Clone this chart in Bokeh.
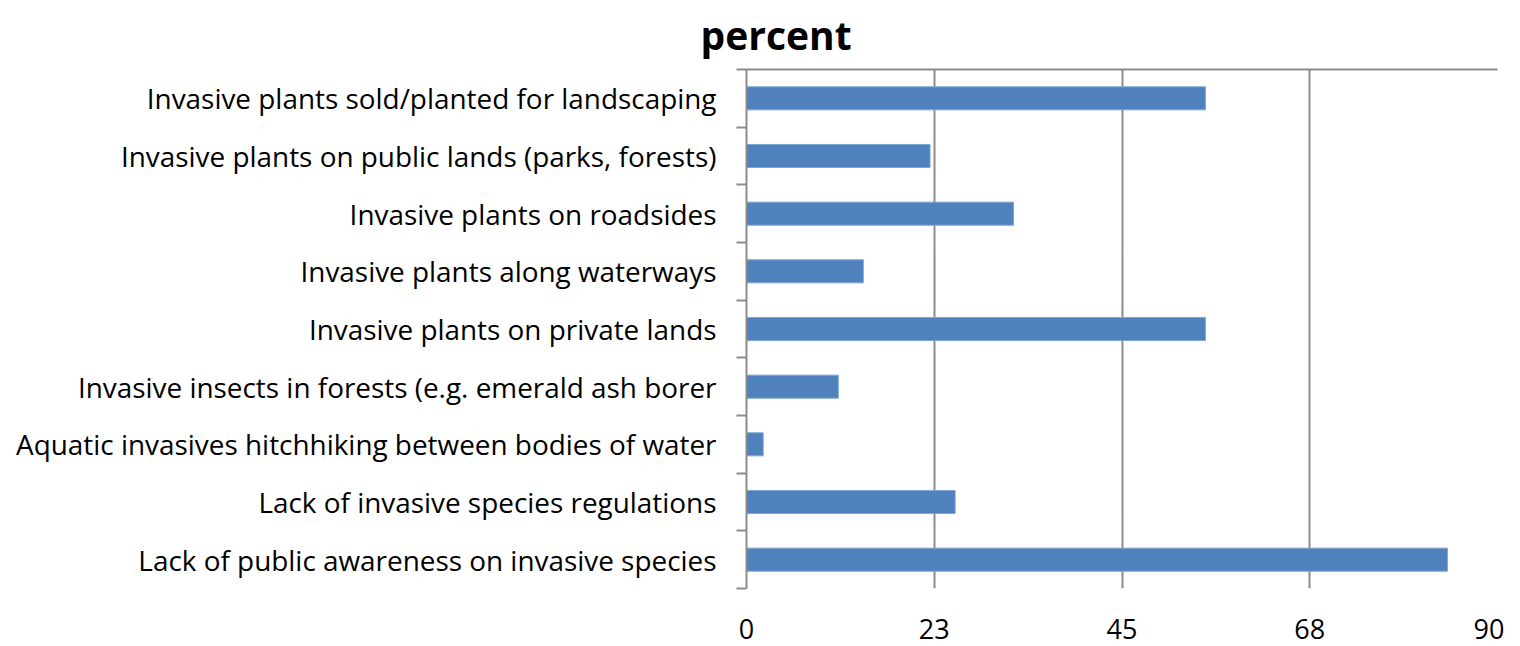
from bokeh.plotting import figure
from bokeh.models import Range1d, FixedTicker, LinearAxis, Title
from bokeh.embed import file_html
from bokeh.resources import INLINE

# Data (top to bottom as shown)
categories = [
    "Invasive plants sold/planted for landscaping",
    "Invasive plants on public lands (parks, forests)",
    "Invasive plants on roadsides",
    "Invasive plants along waterways",
    "Invasive plants on private lands",
    "Invasive insects in forests (e.g. emerald ash borer",
    "Aquatic invasives hitchhiking between bodies of water",
    "Lack of invasive species regulations",
    "Lack of public awareness on invasive species",
]
percent = [55, 22, 32, 14, 55, 11, 2, 25, 84]
x_ticks = [0, 22.5, 45, 67.5, 90]
x_tick_labels = ["0", "23", "45", "68", "90"]
title_text = "percent"

n = len(categories)
# bottom-to-top positions
ypos = [n - i - 0.5 for i in range(n)]

FONT = "Open Sans"
GRAY = "#8c8c8c"

p = figure(width=1504, height=646, output_backend="svg", toolbar_location=None,
           x_range=Range1d(0, 90), y_range=Range1d(0, n),
           x_axis_location="below")
p.min_border_left = 746
p.min_border_right = 7
p.min_border_top = 68
p.min_border_bottom = 58
p.outline_line_color = None
p.background_fill_color = "white"

p.hbar(y=ypos, right=percent, left=0, height=0.4, fill_color="#4F81BD",
       line_color="#7FA6D4", line_width=1)

# x axis
xa = p.xaxis[0]
xa.ticker = FixedTicker(ticks=x_ticks)
xa.major_label_overrides = {t: l for t, l in zip(x_ticks, x_tick_labels)}
xa.axis_line_color = None
xa.major_tick_line_color = None
xa.minor_tick_line_color = None
xa.major_label_text_font = FONT
xa.major_label_text_font_size = "27px"
xa.major_label_text_color = "black"
xa.major_label_standoff = 24

# y axis
ya = p.yaxis[0]
ya.ticker = FixedTicker(ticks=ypos, minor_ticks=list(range(n + 1)))
ya.major_label_overrides = {y: c for y, c in zip(ypos, categories)}
ya.axis_line_color = GRAY
ya.axis_line_width = 2
ya.major_tick_out = 0
ya.major_tick_in = 0
ya.minor_tick_out = 10
ya.minor_tick_in = 0
ya.minor_tick_line_color = GRAY
ya.minor_tick_line_width = 2
ya.major_label_text_font = FONT
ya.major_label_text_font_size = "27.9px"
ya.major_label_text_color = "black"
ya.major_label_standoff = 20

# top line
top_axis = LinearAxis(ticker=FixedTicker(ticks=[]), axis_line_color=GRAY, axis_line_width=2,
                      major_tick_line_color=None, minor_tick_line_color=None,
                      major_label_text_font_size="0px", major_label_standoff=0)
p.add_layout(top_axis, "above")

# grid
p.xgrid.ticker = FixedTicker(ticks=x_ticks)
p.xgrid.grid_line_color = GRAY
p.xgrid.grid_line_width = 2
p.ygrid.grid_line_color = None

p.title = Title(text=title_text, align="left", offset=-46, text_font=FONT,
                text_font_size="39px", text_font_style="bold", text_color="black",
                vertical_align="top", standoff=14)

open("out.html", "w").write(file_html(p, INLINE))
